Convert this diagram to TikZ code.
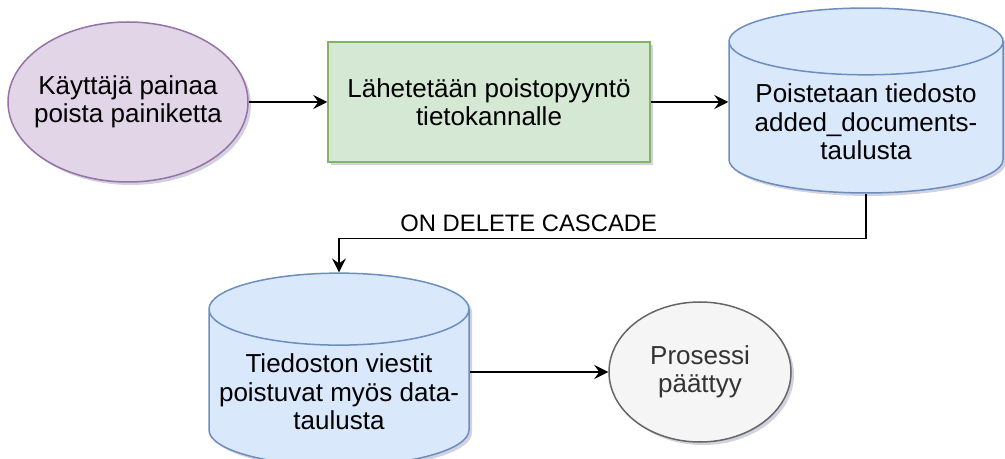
\documentclass[tikz,border=0pt]{standalone}
\usepackage{fontspec}
\setmainfont{Liberation Sans}
\usetikzlibrary{arrows.meta,shapes.geometric,shadows,positioning}

\definecolor{lilacfill}{HTML}{E1D5E7}
\definecolor{lilacline}{HTML}{9673A6}
\definecolor{greenfill}{HTML}{D5E8D4}
\definecolor{greenline}{HTML}{82B366}
\definecolor{bluefill}{HTML}{DAE8FC}
\definecolor{blueline}{HTML}{6C8EBF}
\definecolor{greyfill}{HTML}{F5F5F5}
\definecolor{greyline}{HTML}{666666}
\definecolor{greytext}{HTML}{333333}

\tikzset{
  shape base/.style={line width=0.75pt, align=center, inner sep=0pt,
    font=\fontsize{13}{14.25}\selectfont,
    drop shadow={shadow xshift=1.5pt, shadow yshift=-1.5pt, opacity=0.18, fill=black!70!blue}},
  startnode/.style={shape base, ellipse, draw=lilacline, fill=lilacfill,
    inner xsep=-8pt, minimum width=120pt, minimum height=80pt},
  stepbox/.style={shape base, rectangle, draw=greenline, fill=greenfill,
    minimum width=161pt, minimum height=60pt},
  dbnode/.style={shape base, cylinder, shape border rotate=90, aspect=0.3,
    anchor=shape center, text height=42pt, text depth=-5.5pt,
    draw=blueline, fill=bluefill},
  endnode/.style={shape base, ellipse, draw=greyline, fill=greyfill, text=greytext,
    minimum width=91pt, minimum height=70pt},
  flow/.style={line width=0.75pt, -{Stealth[length=7pt, width=7pt, inset=2.5pt]}}
}

\begin{document}
\begin{tikzpicture}[x=0.5pt, y=-0.5pt]
\useasboundingbox (0,0) rectangle (1005,459);

% nodes
\node[startnode] (press) at (128,102) {Käyttäjä painaa\\poista painiketta};
\node[stepbox] (request) at (489,102) {Lähetetään poistopyyntö\\tietokannalle};
\node[dbnode, minimum width=137pt, minimum height=90.5pt] (doctable) at (866,100.5)
  {Poistetaan tiedosto\\added\_documents-\\taulusta};
\node[dbnode, minimum width=130pt, minimum height=87.5pt] (msgtable) at (339,369.5)
  {Tiedoston viestit\\poistuvat myös data-\\taulusta};
\node[endnode] (done) at (700,372) {Prosessi\\päättyy};

% connectors
\draw[flow] (press) -- (request);
\draw[flow] (request) -- (doctable.west |- request.east);
\draw[flow] (doctable.south) -- ++(0,45) -| node[pos=0.32, above, font=\fontsize{11.9}{13}\selectfont] {ON DELETE CASCADE} (msgtable.north);
\draw[flow] (msgtable.east |- done.west) -- (done.west);
\end{tikzpicture}
\end{document}
